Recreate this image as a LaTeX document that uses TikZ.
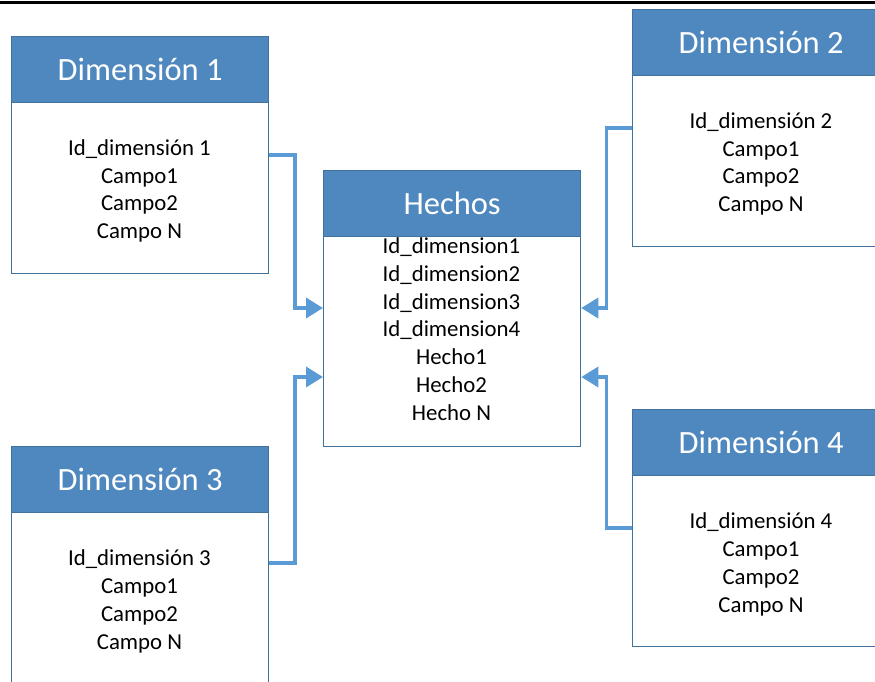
\documentclass[tikz,border=0pt]{standalone}
\usepackage{fontspec}
\setmainfont{Carlito}
\usetikzlibrary{arrows.meta,calc}
\definecolor{bordc}{RGB}{65,113,156}
\definecolor{hdrc}{RGB}{79,136,190}
\definecolor{connc}{RGB}{91,155,213}
\tikzset{
  hdr/.style={draw=bordc, fill=hdrc, line width=1.3pt, minimum width=257pt, minimum height=66pt, anchor=north west, text=white, font=\fontsize{32.5}{39}\selectfont, inner sep=0pt},
  bodyb/.style={draw=bordc, fill=white, line width=1.3pt, anchor=north west, minimum width=257pt, inner sep=0pt},
  fields/.style={align=center, font=\fontsize{22.8}{27.8}\selectfont, inner sep=0pt},
  conn/.style={draw=connc, line width=3.6pt, -{Triangle[length=17pt,width=20pt]}}
}
\begin{document}
\begin{tikzpicture}[x=1pt,y=-1pt]
\useasboundingbox (0,0) rectangle (875,681);
\draw[line width=3pt] (0,2.5) -- (875,2.5);
% Dimension 1
\node[bodyb, minimum height=171pt] (d1b) at (11,102) {};
\node[hdr] (d1h) at (11,36) {Dimensión 1};
\node[fields] (d1t) at (139.5,191) {Id\_dimensión 1\\Campo1\\Campo2\\Campo N};
% Dimension 2
\node[bodyb, minimum height=171pt] (d2b) at (632,75) {};
\node[hdr] (d2h) at (632,9) {Dimensión 2};
\node[fields] (d2t) at (761,164) {Id\_dimensión 2\\Campo1\\Campo2\\Campo N};
% Hechos
\node[bodyb, minimum height=210pt] (hb) at (323,236) {};
\node[hdr] (hh) at (323,170) {Hechos};
\node[fields] (ht) at (451.5,329) {Id\_dimension1\\Id\_dimension2\\Id\_dimension3\\Id\_dimension4\\Hecho1\\Hecho2\\Hecho N};
% Dimension 3
\node[bodyb, minimum height=200pt] (d3b) at (11,511) {};
\node[hdr] (d3h) at (11,446) {Dimensión 3};
\node[fields] (d3t) at (139.5,601.5) {Id\_dimensión 3\\Campo1\\Campo2\\Campo N};
% Dimension 4
\node[bodyb, minimum height=171pt] (d4b) at (632,475) {};
\node[hdr] (d4h) at (632,409) {Dimensión 4};
\node[fields] (d4t) at (761,564.5) {Id\_dimensión 4\\Campo1\\Campo2\\Campo N};
% connectors
\draw[conn] ([yshift=-53pt]d1b.north east) -| ([xshift=-28pt,yshift=-72pt]hb.north west) -- ([yshift=-72pt]hb.north west);
\draw[conn] ([yshift=-53pt]d2b.north west) -| ([xshift=25pt,yshift=-72pt]hb.north east) -- ([yshift=-72pt]hb.north east);
\draw[conn] ([yshift=-52pt]d3b.north east) -| ([xshift=-28pt,yshift=-141pt]hb.north west) -- ([yshift=-141pt]hb.north west);
\draw[conn] ([yshift=-53pt]d4b.north west) -| ([xshift=25pt,yshift=-141pt]hb.north east) -- ([yshift=-141pt]hb.north east);
\end{tikzpicture}
\end{document}
